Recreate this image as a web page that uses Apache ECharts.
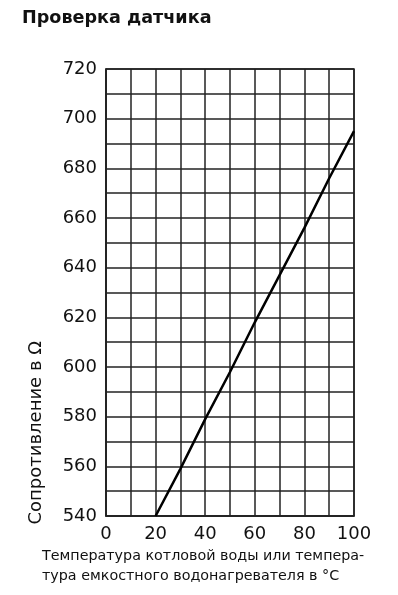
<!DOCTYPE html>
<html>
<head>
<meta charset="utf-8">
<script src="https://cdn.jsdelivr.net/npm/echarts@6/dist/echarts.min.js"></script>
<style>
html,body{margin:0;padding:0;background:#fff;}
#c{width:398px;height:595px;}
</style>
</head>
<body>
<div id="c"></div>
<script>
var temperatures = [20, 30, 40, 50, 60, 70, 80, 90, 100];
var resistances = [540, 559, 579, 598, 618, 637, 656, 676, 695];
var titleText = 'Проверка датчика';
var yName = 'Сопротивление в Ω';
var xNameLines = ['Температура котловой воды или темпера-', 'тура емкостного водонагревателя в °C'];

var FONT = '"DejaVu Sans", sans-serif';
var GRID = '#222';
var chart = echarts.init(document.getElementById('c'), null, {renderer: 'canvas'});
chart.setOption({
  animation: false,
  backgroundColor: '#fff',
  title: {
    text: titleText, left: 17, top: 4,
    textStyle: {fontFamily: FONT, fontSize: 17.6, fontWeight: 'bold', color: '#111'}
  },
  grid: {left: 106, right: 44, top: 69, bottom: 79, containLabel: false,
         show: true, borderColor: GRID, borderWidth: 1.5},
  xAxis: {
    type: 'value', min: 0, max: 100, interval: 10,
    axisLine: {show: true, lineStyle: {color: GRID, width: 1.5}},
    axisTick: {show: false},
    splitLine: {show: true, lineStyle: {color: GRID, width: 1.5}},
    axisLabel: {
      margin: 9, fontFamily: FONT, fontSize: 18, color: '#111',
      formatter: function (v) { return v % 20 === 0 ? String(v) : ''; }
    }
  },
  yAxis: {
    type: 'value', min: 540, max: 720, interval: 10,
    axisLine: {show: true, lineStyle: {color: GRID, width: 1.5}},
    axisTick: {show: false},
    splitLine: {show: true, lineStyle: {color: GRID, width: 1.5}},
    axisLabel: {
      margin: 9, fontFamily: FONT, fontSize: 18, color: '#111',
      formatter: function (v) { return v % 20 === 0 ? String(v) : ''; }
    }
  },
  graphic: [
    {type: 'text', left: 27, top: 341, rotation: Math.PI / 2,
     style: {text: yName, font: '18px ' + FONT, fill: '#111'}},
    {type: 'text', left: 42, top: 546,
     style: {text: xNameLines.join('\n'), font: '14.3px ' + FONT, fill: '#111', lineHeight: 20}}
  ],
  series: [{
    type: 'line',
    data: temperatures.map(function (t, i) { return [t, resistances[i]]; }),
    showSymbol: false,
    lineStyle: {color: '#000', width: 2.5}
  }]
});
</script>
</body>
</html>
